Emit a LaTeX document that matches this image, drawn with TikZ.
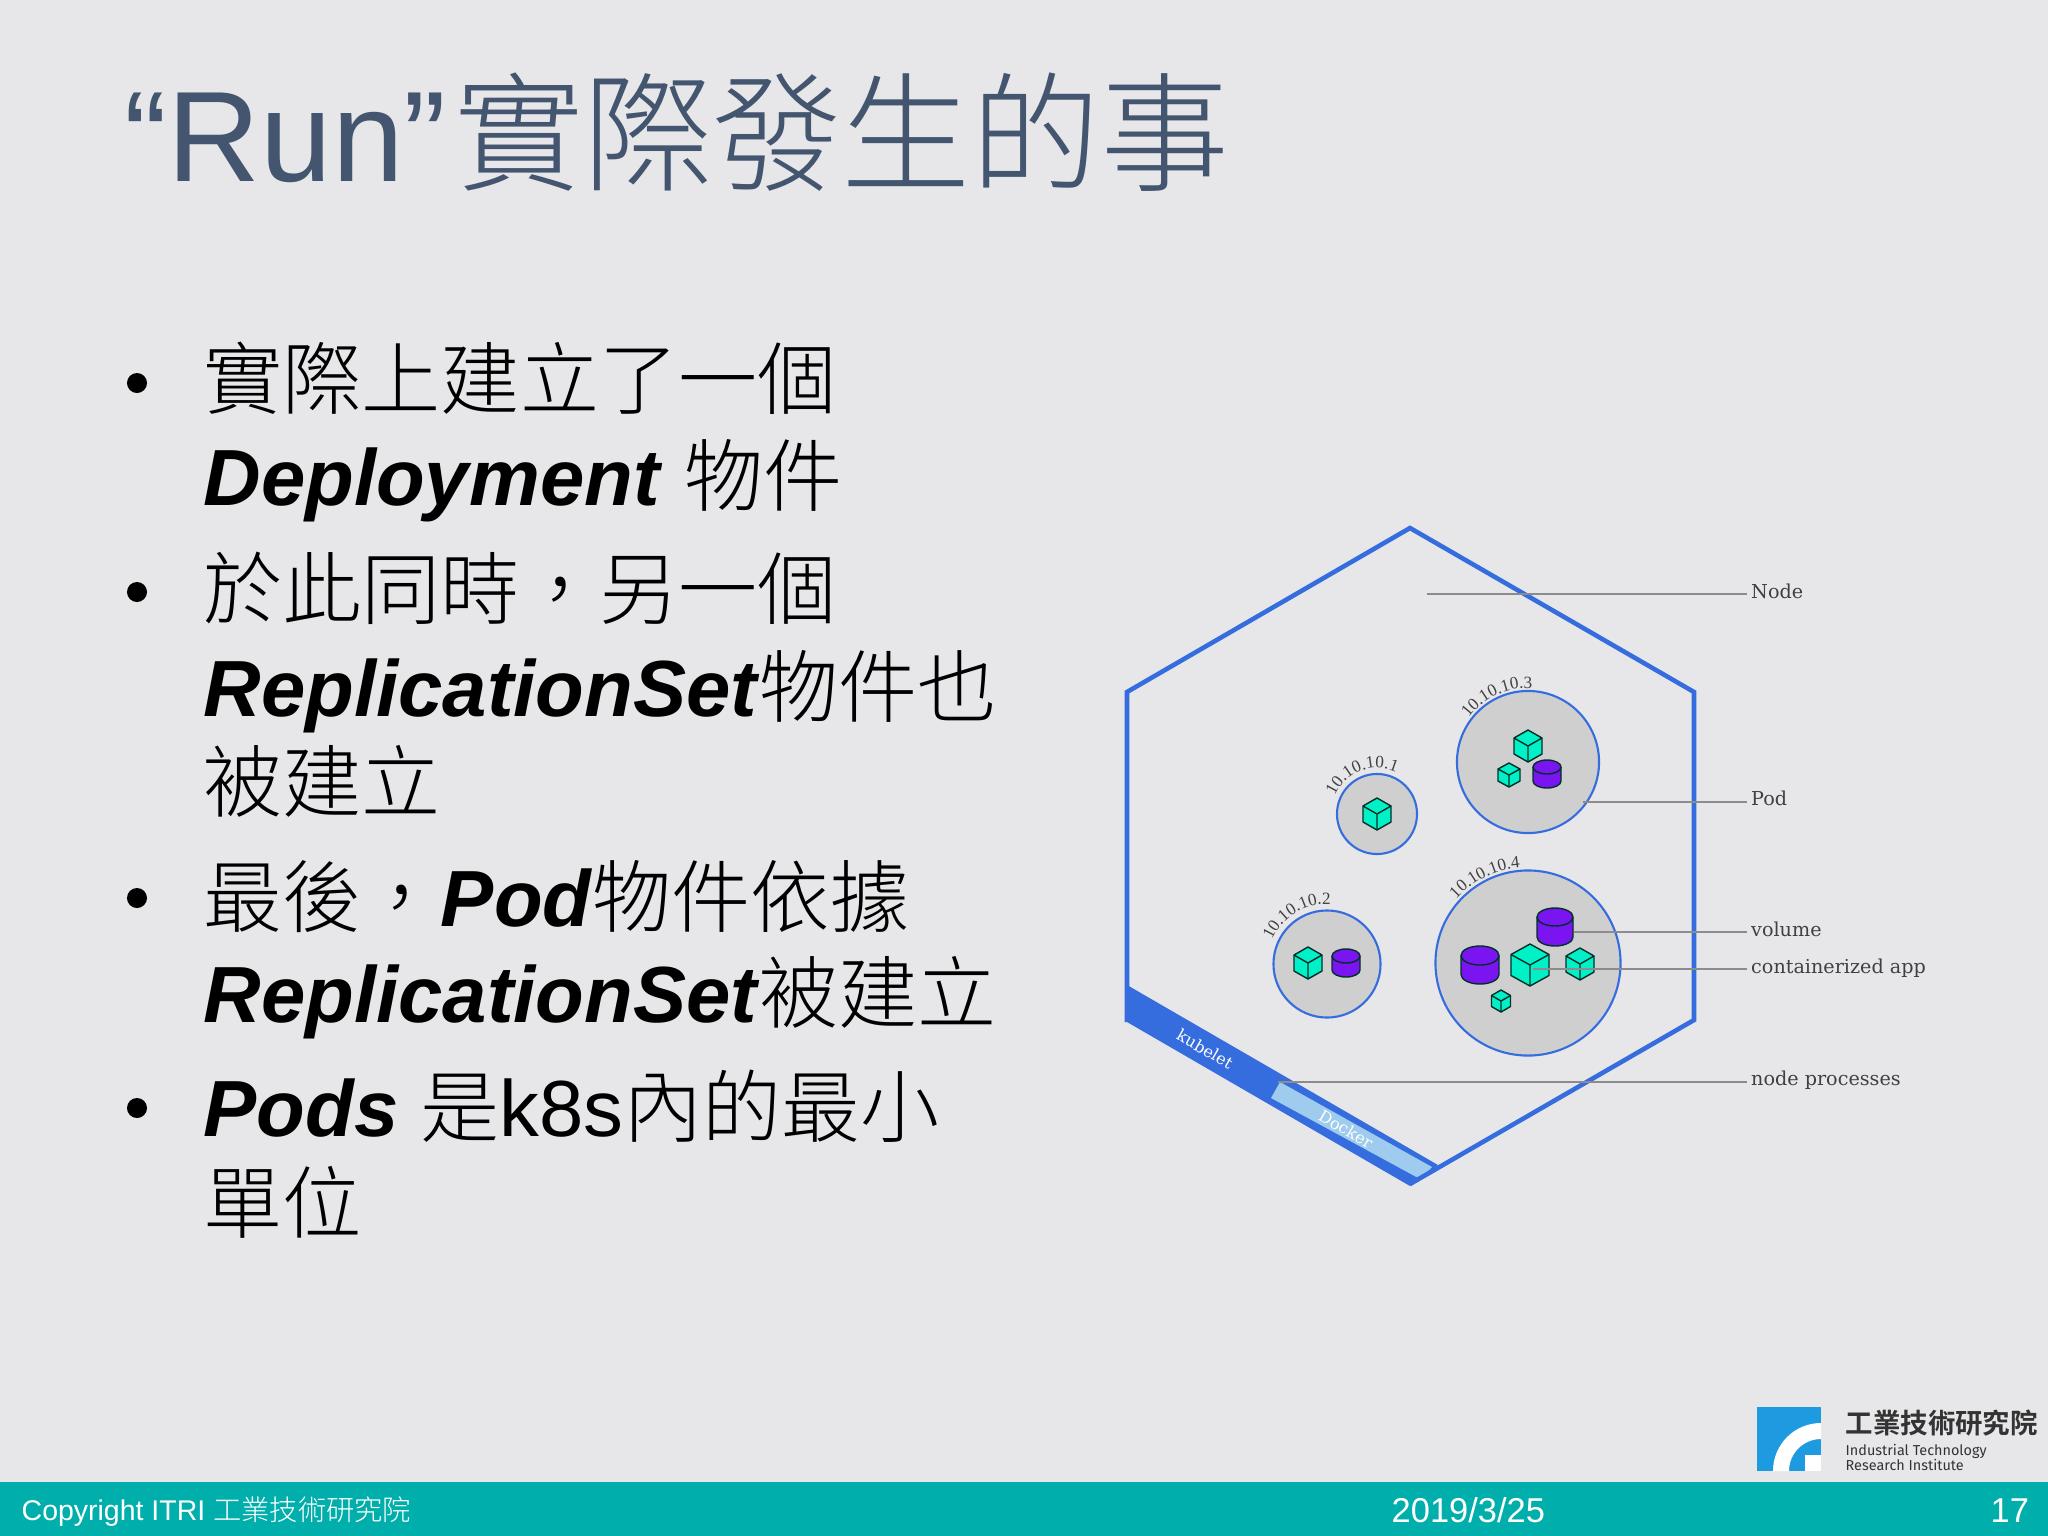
\documentclass[tikz,border=0pt]{standalone}
\usepackage{fontspec}
\usetikzlibrary{decorations.text}
\setmainfont{Liberation Sans}
\newfontfamily\cjk[Scale=0.993]{Noto Sans CJK TC Light}
\newfontfamily\cjkbold{Noto Sans CJK TC}[BoldFont=* Bold]
\newfontfamily\slab{DejaVu Serif}
\newfontfamily\thinserif{Liberation Serif}
\newfontfamily\din{Fira Sans}
\definecolor{slidebg}{HTML}{E7E7E9}
\definecolor{titleblue}{HTML}{44566F}
\definecolor{barteal}{HTML}{00AFAB}
\definecolor{hexblue}{HTML}{366DDE}
\definecolor{lightblue}{HTML}{9FCBEE}
\definecolor{podgray}{HTML}{CFCFD0}
\definecolor{appcyan}{HTML}{00F0C8}
\definecolor{volpurple}{HTML}{7A14F0}
\definecolor{logoblue}{HTML}{1E9BE0}
\newcommand\podfont{\thinserif\fontsize{4.9}{6}\selectfont\color{black!75}}
\newcommand\cubeat[4]{
\draw[shape3d,fill=appcyan] (#1,#2-#4) -- (#1+#3,#2-#4/2) -- (#1+#3,#2+#4/2) -- (#1,#2+#4) -- (#1-#3,#2+#4/2) -- (#1-#3,#2-#4/2) -- cycle;
\draw[shape3d] (#1-#3,#2-#4/2) -- (#1,#2) -- (#1+#3,#2-#4/2) (#1,#2) -- (#1,#2+#4);
}
\newcommand\cylat[4]{
\draw[shape3d,fill=volpurple] (#1-#3,#2-#4+#3/2) -- (#1-#3,#2+#4-#3/2) arc (180:0:#3 and #3/2) -- (#1+#3,#2-#4+#3/2) arc (0:-180:#3 and #3/2) -- cycle;
\draw[shape3d] (#1-#3,#2-#4+#3/2) arc (180:0:#3 and #3/2);
}
\newcommand\podtext[5]{
\path[decorate,decoration={text along path,text={|\podfont|#5},text align={center}}] (#1) ++(-#2:#4) arc (-#2:-#3:#4);
}
\tikzset{
  title/.style={anchor=base west,inner sep=0,text=titleblue,font=\fontsize{36.6}{40}\selectfont},
  bodytext/.style={anchor=base west,inner sep=0,font=\fontsize{22.65}{24}\selectfont},
  dot/.style={circle,fill=black,inner sep=0,minimum size=0.2cm},
  pod/.style={circle,draw=hexblue,fill=podgray,line width=0.6pt,inner sep=0},
  lab/.style={anchor=west,inner sep=1pt,text=black!75,font=\slab\fontsize{5.45}{6}\selectfont},
  bandtext/.style={inner sep=0,font=\slab\fontsize{4.6}{6}\selectfont},
  leader/.style={draw=black!45,line width=0.3pt},
  shape3d/.style={draw=black!80!appcyan,line width=0.4pt,line join=round},
  foot/.style={anchor=base west,inner sep=0,text=white},
}
\begin{document}
\begin{tikzpicture}[x=0.01cm,y=-0.01cm]
\useasboundingbox (0,0) rectangle (2048,1536);
\fill[slidebg] (0,0) rectangle (2048,1536);
\fill[barteal] (0,1482) rectangle (2048,1536);
% title
\node[title] (head) at (124,181) {“Run”\kern2.2pt{\cjk\fontsize{37}{40}\selectfont 實際發生的事}};
% bullets
\node[dot] (dot1) at (137,383) {};
\node[dot] (dot2) at (137,592) {};
\node[dot] (dot3) at (137,898) {};
\node[dot] (dot4) at (137,1108) {};
\node[bodytext] (line1) at (203,408) {\cjk 實際上建立了一個};
\node[bodytext] (line2) at (203,505) {\textbf{\textit{Deployment}} {\cjk 物件}};
\node[bodytext] (line3) at (203,618) {\cjk 於此同時，另一個};
\node[bodytext] (line4) at (203,716) {\textbf{\textit{ReplicationSet}}{\cjk 物件也}};
\node[bodytext] (line5) at (203,811) {\cjk 被建立};
\node[bodytext] (line6) at (203,926) {{\cjk 最後，}\textbf{\textit{Pod}}{\cjk 物件依據}};
\node[bodytext] (line7) at (203,1022) {\textbf{\textit{ReplicationSet}}{\cjk 被建立}};
\node[bodytext] (line8) at (203,1136) {\textbf{\textit{Pods}} {\cjk 是}k8s{\cjk 內的最小}};
\node[bodytext] (line9) at (203,1232) {\cjk 單位};
% hexagon
\fill[hexblue] (1127,985) -- (1438,1165) -- (1410,1186) -- (1127,1022) -- cycle;
\fill[lightblue] (1280,1082) -- (1432,1167) -- (1420,1179) -- (1271,1098) -- cycle;
\draw[hexblue,line width=1.3pt] (1410,1184) -- (1694,1020) -- (1694,692) -- (1410,528) -- (1127,692) -- (1127,1022);
\node[bandtext,text=white,rotate=-29.8] (kubelet) at (1205,1049) {kubelet};
\node[bandtext,text=white,rotate=-29.8] (docker) at (1346,1129) {Docker};
% pods
\node[pod,minimum size=0.8cm] (pod1) at (1377,814) {};
\node[pod,minimum size=1.07cm] (pod2) at (1327,964) {};
\node[pod,minimum size=1.42cm] (pod3) at (1528,762) {};
\node[pod,minimum size=1.85cm] (pod4) at (1528,963) {};
\podtext{pod1}{160}{62}{46}{10.10.10.1}
\podtext{pod2}{159}{84}{60}{10.10.10.2}
\podtext{pod3}{145}{85}{74}{10.10.10.3}
\podtext{pod4}{140}{93}{96}{10.10.10.4}
\cubeat{1377}{814}{14}{16}
\cubeat{1528}{746}{14}{16}
\cubeat{1509}{775}{11}{12}
\cylat{1547}{774}{14}{14}
\cubeat{1308}{963}{14}{16}
\cylat{1346}{963}{14}{14}
\cylat{1480}{965}{19}{19}
\cylat{1555}{927}{18}{19}
\cubeat{1530}{965}{19}{21}
\cubeat{1580}{964}{14}{16}
\cubeat{1501}{1001}{9.5}{11}
% callouts
\coordinate (nodept) at (1427,594);
\coordinate (podpt) at (1583,802);
\coordinate (volpt) at (1574,932);
\coordinate (apppt) at (1533,969);
\coordinate (procpt) at (1278,1082);
\node[lab] (nodelab) at (1747,591) {Node};
\node[lab] (podlab) at (1747,798) {Pod};
\node[lab] (vollab) at (1747,929) {volume};
\node[lab] (applab) at (1747,968) {containerized app};
\node[lab] (proclab) at (1747,1080) {node processes};
\draw[leader] (nodept) -- (nodelab.west |- nodept);
\draw[leader] (podpt) -- (podlab.west |- podpt);
\draw[leader] (volpt) -- (vollab.west |- volpt);
\draw[leader] (apppt) -- (applab.west |- apppt);
\draw[leader] (procpt) -- (proclab.west |- procpt);
% logo
\fill[logoblue] (1757,1407) rectangle (1821,1471);
\fill[white] (1773,1471) arc (180:270:48) -- (1821,1439) arc (270:180:32) -- cycle;
\fill[white] (1805,1455) rectangle (1821,1471);
\node[anchor=base west,inner sep=0,text=black!80,font=\cjkbold\fontsize{7.8}{9}\selectfont] (logozh) at (1845,1433) {\textbf{工業技術研究院}};
\node[anchor=base west,inner sep=0,text=black!80,font=\din\fontsize{4.1}{5}\selectfont] (logoen1) at (1845,1455) {Industrial Technology};
\node[anchor=base west,inner sep=0,text=black!80,font=\din\fontsize{4.1}{5}\selectfont] (logoen2) at (1845,1470) {Research Institute};
% footer
\node[foot,font=\fontsize{8.1}{10}\selectfont] (copy) at (21,1520) {Copyright ITRI {\cjk 工業技術研究院}};
\node[foot,font=\fontsize{9.8}{12}\selectfont] (date) at (1391,1522) {2019/3/25};
\node[foot,font=\fontsize{9.8}{12}\selectfont] (pagenum) at (1990,1522) {17};
\end{tikzpicture}
\end{document}
